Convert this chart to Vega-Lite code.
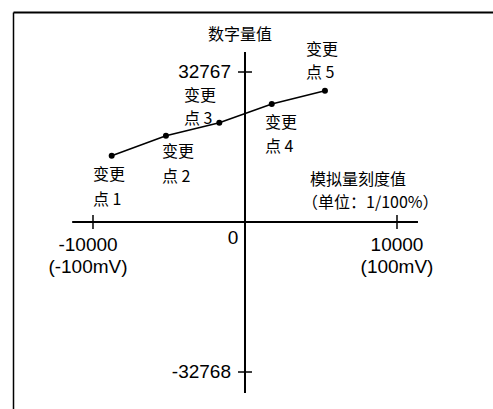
{
  "$schema": "https://vega.github.io/schema/vega-lite/v6.json",
  "width": 480,
  "height": 397,
  "autosize": {"type": "none"},
  "padding": {"left": 13, "top": 12, "right": 0, "bottom": 0},
  "background": "white",
  "config": {"view": {"stroke": null}},
  "datasets": {
    "points": [
      {"point": "变更点1", "x": -8770, "y": 14480},
      {"point": "变更点2", "x": -5200, "y": 18850},
      {"point": "变更点3", "x": -1690, "y": 21690},
      {"point": "变更点4", "x": 1760, "y": 25780},
      {"point": "变更点5", "x": 5260, "y": 28680}
    ],
    "axes": [
      {"x": -11370, "x2": 11380, "y": 0, "y2": 0},
      {"x": 0, "x2": 0, "y": 37136, "y2": -37354}
    ],
    "ticks": [
      {"x": -10000, "x2": -10000, "y": 1529, "y2": -1529},
      {"x": 10000, "x2": 10000, "y": 1529, "y2": -1529},
      {"x": -460, "x2": 460, "y": 32767, "y2": 32767},
      {"x": -460, "x2": 460, "y": -32768, "y2": -32768}
    ],
    "labels": [
      {"kind": "num_c", "x": -10329, "y": -5024, "text": "-10000"},
      {"kind": "num_c", "x": -10329, "y": -9830, "text": "(-100mV)"},
      {"kind": "num_c", "x": 10000, "y": -5024, "text": "10000"},
      {"kind": "num_c", "x": 10000, "y": -9830, "text": "(100mV)"},
      {"kind": "num_c", "x": -789, "y": -3495, "text": "0"},
      {"kind": "num_r", "x": -921, "y": 32767, "text": "32767"},
      {"kind": "num_r", "x": -921, "y": -32768, "text": "-32768"},
      {"kind": "cjk", "x": -2434, "y": 40850, "text": "数字量值"},
      {"kind": "cjk", "x": 4013, "y": 37573, "text": "变更"},
      {"kind": "cjk", "x": 4013, "y": 32549, "text": "点 5"},
      {"kind": "cjk", "x": -4013, "y": 27525, "text": "变更"},
      {"kind": "cjk", "x": -4013, "y": 22500, "text": "点 3"},
      {"kind": "cjk", "x": 1316, "y": 21627, "text": "变更"},
      {"kind": "cjk", "x": 1316, "y": 16384, "text": "点 4"},
      {"kind": "cjk", "x": -5461, "y": 15292, "text": "变更"},
      {"kind": "cjk", "x": -5461, "y": 9830, "text": "点 2"},
      {"kind": "cjk", "x": -10000, "y": 10267, "text": "变更"},
      {"kind": "cjk", "x": -10000, "y": 4806, "text": "点 1"},
      {"kind": "cjk", "x": 4276, "y": 9175, "text": "模拟量刻度值"},
      {"kind": "cjk", "x": 3750, "y": 4150, "text": "（单位：1/100%）"}
    ]
  },
  "encoding": {
    "x": {
      "field": "x",
      "type": "quantitative",
      "scale": {"domain": [-15263, 16316], "nice": false, "zero": false},
      "axis": {"orient": "top", "domain": true, "domainColor": "black", "domainWidth": 2, "ticks": false, "labels": false, "grid": false, "title": null}
    },
    "y": {
      "field": "y",
      "type": "quantitative",
      "scale": {"domain": [-40850, 45875], "nice": false, "zero": false},
      "axis": {"orient": "left", "domain": true, "domainColor": "black", "domainWidth": 1.5, "ticks": false, "labels": false, "grid": false, "title": null}
    }
  },
  "layer": [
    {
      "data": {"name": "axes"},
      "mark": {"type": "rule", "color": "black", "strokeWidth": 2},
      "encoding": {"x2": {"field": "x2"}, "y2": {"field": "y2"}}
    },
    {
      "data": {"name": "ticks"},
      "mark": {"type": "rule", "color": "black", "strokeWidth": 1.5},
      "encoding": {"x2": {"field": "x2"}, "y2": {"field": "y2"}}
    },
    {
      "data": {"name": "points"},
      "mark": {"type": "line", "color": "black", "strokeWidth": 1.5},
      "encoding": {}
    },
    {
      "data": {"name": "points"},
      "mark": {"type": "point", "filled": true, "color": "black", "opacity": 1, "size": 36},
      "encoding": {}
    },
    {
      "data": {"name": "labels"},
      "transform": [{"filter": "datum.kind === 'num_c'"}],
      "mark": {"type": "text", "align": "center", "baseline": "middle", "font": "Liberation Sans", "fontSize": 19, "color": "black"},
      "encoding": {"text": {"field": "text"}}
    },
    {
      "data": {"name": "labels"},
      "transform": [{"filter": "datum.kind === 'num_r'"}],
      "mark": {"type": "text", "align": "right", "baseline": "middle", "font": "Liberation Sans", "fontSize": 19, "color": "black"},
      "encoding": {"text": {"field": "text"}}
    },
    {
      "data": {"name": "labels"},
      "transform": [{"filter": "datum.kind === 'cjk'"}],
      "mark": {"type": "text", "align": "left", "baseline": "middle", "font": "Noto Sans CJK SC", "fontSize": 16, "color": "black"},
      "encoding": {"text": {"field": "text"}}
    }
  ]
}
